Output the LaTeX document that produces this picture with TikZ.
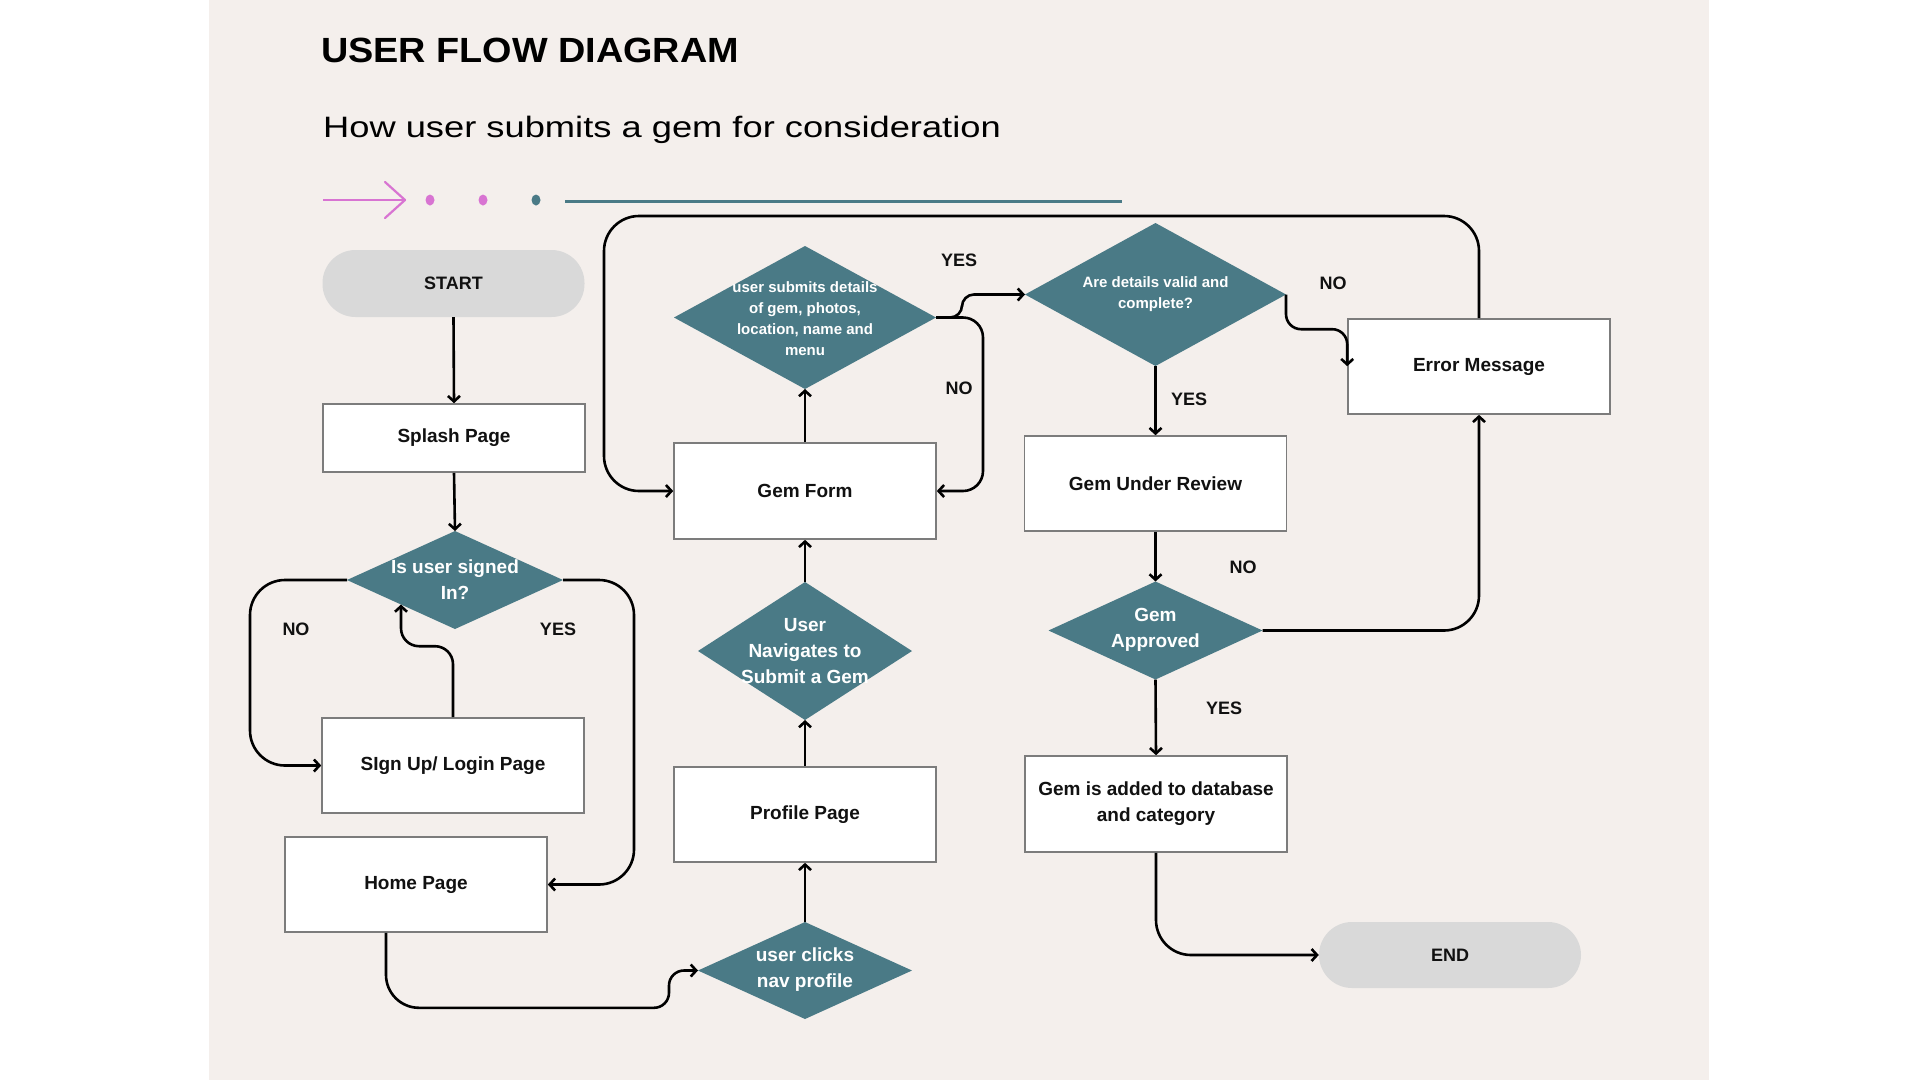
\documentclass[tikz,border=0pt]{standalone}
\usepackage{fontspec}
\setmainfont{Liberation Sans}
\usetikzlibrary{shapes.geometric, arrows.meta, calc}
\definecolor{bgbeige}{HTML}{F4EFEC}
\definecolor{tealc}{HTML}{4A7A86}
\definecolor{pinkc}{HTML}{D874D2}
\definecolor{pillgray}{HTML}{D9D9D9}
\definecolor{boxgray}{HTML}{7C7C7C}
\definecolor{ink}{HTML}{111111}
\tikzset{
  box/.style={draw=boxgray, line width=1.6pt, fill=white, minimum width=262pt, minimum height=95pt,
    font=\fontsize{19}{26}\selectfont\bfseries, text=ink, align=center, inner sep=0pt},
  pill/.style={fill=pillgray, rounded corners=33pt, minimum width=262pt, minimum height=67pt,
    font=\fontsize{18}{22}\selectfont\bfseries, text=ink, inner sep=0pt},
  dia/.style={diamond, fill=tealc, inner sep=0pt, outer sep=0pt},
  dtext/.style={text=white, font=\fontsize{19}{26}\selectfont\bfseries, align=center, inner sep=0pt},
  dtexts/.style={text=white, font=\fontsize{15}{21}\selectfont\bfseries, align=center, inner sep=0pt},
  lbl/.style={font=\fontsize{18}{20}\selectfont\bfseries, text=ink, inner sep=0pt},
  arr/.style={draw=black, line width=2.6pt, -{Straight Barb[length=5.5pt,width=12pt]}},
}
\begin{document}
\begin{tikzpicture}[x=1pt,y=-1pt]
\useasboundingbox (0,0) rectangle (1920,1080);
\fill[white] (0,0) rectangle (1920,1080);
\fill[bgbeige] (209,0) rectangle (1709,1080);

% header
\node[anchor=base west, inner sep=0pt, font=\fontsize{35}{40}\selectfont\bfseries] (title) at (321,62) {\scalebox{1.08}[1]{USER FLOW DIAGRAM}};
\node[anchor=base west, inner sep=0pt, font=\fontsize{29.5}{34}\selectfont] (subtitle) at (323,137) {\scalebox{1.23}[1]{How user submits a gem for consideration}};

% decoration
\draw[pinkc, line width=2.2pt] (323,200) -- (404,200);
\draw[pinkc, line width=2.2pt, line cap=round, line join=round] (385,182) -- (405,200) -- (385,218);
\fill[pinkc] (430,200) ellipse [x radius=4.5pt, y radius=5.5pt];
\fill[pinkc] (483,200) ellipse [x radius=4.5pt, y radius=5.5pt];
\fill[tealc] (536,200) ellipse [x radius=4.5pt, y radius=5.5pt];
\draw[tealc, line width=3pt] (565,201) -- (1122,201);

% nodes
\node[pill] (start) at (453.5,283.5) {START};
\node[box, minimum height=68pt] (splash) at (454,438) {Splash Page};
\node[dia, minimum width=216pt, minimum height=98pt] (signed) at (455,580) {};
\node[dtext] (signedT) at (455,580) {Is user signed\\In?};
\node[box] (signup) at (453,765.5) {SIgn Up/ Login Page};
\node[box] (home) at (416,884.5) {Home Page};
\node[dia, minimum width=214pt, minimum height=97pt] (clicks) at (805,970.5) {};
\node[dtext] (clicksT) at (805,970) {user clicks\\nav profile};
\node[box] (profile) at (805,814.5) {Profile Page};
\node[dia, minimum width=214pt, minimum height=138pt] (nav) at (805,651) {};
\node[dtext] (navT) at (805,651) {User\\Navigates to\\Submit a Gem};
\node[box, minimum height=96pt] (gemform) at (805,491) {Gem Form};
\node[dia, minimum width=262pt, minimum height=143pt] (details) at (805,317.5) {};
\node[dtexts] (detailsT) at (805,318.5) {user submits details\\of gem, photos,\\location, name and\\menu};
\node[dia, minimum width=261pt, minimum height=143pt] (valid) at (1155.5,294.5) {};
\node[dtexts] (validT) at (1155.5,294.5) {Are details valid and\\complete?};
\node[box] (review) at (1155.5,483.5) {Gem Under Review};
\node[box] (error) at (1479,366.5) {Error Message};
\node[dia, minimum width=214pt, minimum height=98pt] (approved) at (1155.5,630.5) {};
\node[dtext] (approvedT) at (1155.5,630) {Gem\\Approved};
\node[box, minimum height=96pt] (added) at (1156,804) {Gem is added to database\\and category};
\node[pill, minimum height=66pt] (end) at (1450,955) {END};

% labels
\node[lbl] (l1) at (296,629) {NO};
\node[lbl] (l2) at (558,629) {YES};
\node[lbl] (l3) at (959,260) {YES};
\node[lbl] (l4) at (959,388) {NO};
\node[lbl] (l5) at (1333,283) {NO};
\node[lbl] (l6) at (1189,399) {YES};
\node[lbl] (l7) at (1243,567) {NO};
\node[lbl] (l8) at (1224,708) {YES};

% connectors
\draw[arr] (start.south) -- (splash.north);
\draw[arr] (splash.south) -- (signed.north);
\draw[arr, rounded corners=35pt] (signed.west) -- ++(-97,0) |- (signup.west);
\draw[arr, rounded corners=18pt] (signup.north) -- ++(0,-71) -| (signed.south west);
\draw[arr, rounded corners=35pt] (signed.east) -- ++(71,0) |- (home.east);
\draw[arr, rounded corners=33pt] ($(home.south)+(-30,0)$) -- ++(0,75) [rounded corners=15pt] -| ($(clicks.west)+(-29,0)$) -- (clicks.west);
\draw[arr] (clicks.north) -- (profile.south);
\draw[arr] (profile.north) -- (nav.south);
\draw[arr] (nav.north) -- (gemform.south);
\draw[arr] (gemform.north) -- (details.south);
\draw[arr, rounded corners=12pt] (details.east) -- ++(26,0) |- (valid.west);
\draw[arr, rounded corners=20pt] (details.east) -- ++(47,0) |- (gemform.east);
\draw[arr] (valid.south) -- (review.north);
\coordinate (errIn) at ($(error.north west)+(0,48)$);
\draw[arr, rounded corners=15pt] (valid.east) |- ($(errIn)+(0,-37)$) -- (errIn);
\draw[arr, rounded corners=35pt] (error.north) |- (604,216) |- (gemform.west);
\draw[arr] (review.south) -- (approved.north);
\draw[arr, rounded corners=35pt] (approved.east) -| (error.south);
\draw[arr] (approved.south) -- (added.north);
\draw[arr, rounded corners=35pt] (added.south) |- (end.west);
\end{tikzpicture}
\end{document}
